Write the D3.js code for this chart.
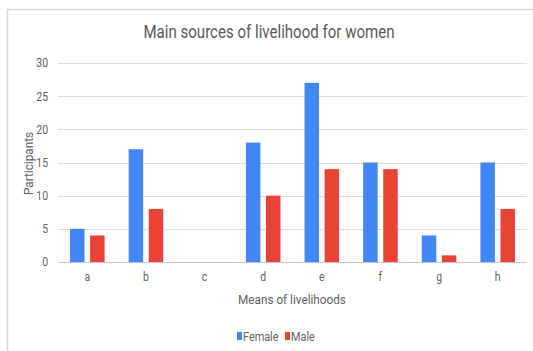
<!DOCTYPE html>
<html>
<head>
<meta charset="utf-8">
<script src="https://cdn.jsdelivr.net/npm/d3@7"></script>
<style>
  html, body { margin: 0; padding: 0; background: #fff; }
  svg { display: block; font-family: Roboto, "Liberation Sans", Arial, sans-serif; }
</style>
</head>
<body>
<svg id="chart" width="533" height="351"></svg>
<script>
// Participants per means of livelihood
const categories = ["a", "b", "c", "d", "e", "f", "g", "h"];
const female = [5, 17, 0, 18, 27, 15, 4, 15];
const male = [4, 8, 0, 10, 14, 14, 1, 8];
const seriesNames = ["Female", "Male"];
const seriesColors = ["#4285f4", "#ea4335"];
const yTicks = [0, 5, 10, 15, 20, 25, 30];

const svg = d3.select("#chart");
const W = 533, H = 351;
const margin = { left: 58, right: 6, top: 63, bottom: 89 };
const TEXT = "#5f5f5f";

// narrow the glyphs a little for a condensed look
function condense(sel, k = 0.87) {
  sel.each(function () {
    const w = this.getComputedTextLength();
    d3.select(this).attr("textLength", w * k).attr("lengthAdjust", "spacingAndGlyphs");
  });
}

// card outline
svg.append("path")
  .attr("d", `M7.5,${H} V9.5 H${W}`)
  .attr("fill", "none")
  .attr("stroke", "#d9d9d9")
  .attr("stroke-width", 1.5);

const x = d3.scaleBand()
  .domain(categories)
  .range([margin.left, W - margin.right]);

const y = d3.scaleLinear()
  .domain([0, 30])
  .range([H - margin.bottom, margin.top]);

// gridlines
svg.append("g")
  .selectAll("line")
  .data(yTicks)
  .join("line")
  .attr("x1", margin.left)
  .attr("x2", W - margin.right)
  .attr("y1", d => Math.round(y(d)) + 0.5)
  .attr("y2", d => Math.round(y(d)) + 0.5)
  .attr("stroke", d => d === 0 ? "#c8c8c8" : "#dcdcdc")
  .attr("stroke-width", 1.2);

// y axis labels
const yAxis = d3.axisLeft(y).tickValues(yTicks).tickSize(0).tickPadding(10);
const gy = svg.append("g")
  .attr("transform", `translate(${margin.left},0)`)
  .call(yAxis);
gy.select(".domain").remove();
gy.selectAll("text")
  .attr("fill", TEXT)
  .style("font-size", "12px")
  .style("font-family", "Roboto, 'Liberation Sans', Arial, sans-serif")
  .call(condense);

// x axis labels
const xAxis = d3.axisBottom(x).tickSize(0).tickPadding(10);
const gx = svg.append("g")
  .attr("transform", `translate(0,${H - margin.bottom})`)
  .call(xAxis);
gx.select(".domain").remove();
gx.selectAll("text")
  .attr("fill", TEXT)
  .style("font-size", "12px")
  .style("font-family", "Roboto, 'Liberation Sans', Arial, sans-serif")
  .call(condense);

// grouped bars
const inner = d3.scaleBand()
  .domain(seriesNames)
  .range([0, x.bandwidth()])
  .paddingInner(0.28)
  .paddingOuter(0.6);

const rows = categories.map((c, i) => ({ cat: c, values: [female[i], male[i]] }));

svg.append("g")
  .selectAll("g")
  .data(rows)
  .join("g")
  .attr("transform", d => `translate(${x(d.cat)},0)`)
  .selectAll("rect")
  .data(d => d.values.map((v, j) => ({ name: seriesNames[j], value: v, color: seriesColors[j] })))
  .join("rect")
  .attr("x", d => inner(d.name))
  .attr("width", inner.bandwidth())
  .attr("y", d => y(d.value))
  .attr("height", d => y(0) - y(d.value))
  .attr("fill", d => d.color);

// title
svg.append("text")
  .attr("x", 269)
  .attr("y", 38)
  .attr("text-anchor", "middle")
  .attr("fill", "#595959")
  .style("font-size", "17.5px")
  .text("Main sources of livelihood for women")
  .call(condense, 0.86);

// axis titles
svg.append("text")
  .attr("x", 292)
  .attr("y", 304)
  .attr("text-anchor", "middle")
  .attr("fill", TEXT)
  .style("font-size", "13.5px")
  .text("Means of livelihoods")
  .call(condense);

svg.append("text")
  .attr("transform", `translate(33,${(margin.top + H - margin.bottom) / 2 + 1}) rotate(-90)`)
  .attr("text-anchor", "middle")
  .attr("fill", TEXT)
  .style("font-size", "13.5px")
  .text("Participants")
  .call(condense);

// legend
const legend = svg.append("g").attr("transform", "translate(237,337)");
const legendX = [0, 48];
seriesNames.forEach((name, i) => {
  const g = legend.append("g").attr("transform", `translate(${legendX[i]},0)`);
  g.append("rect").attr("x", 0).attr("y", -5).attr("width", 5).attr("height", 8).attr("fill", seriesColors[i]);
  g.append("text").attr("x", 6).attr("y", 4).attr("fill", TEXT).style("font-size", "12.5px").text(name).call(condense);
});
</script>
</body>
</html>
